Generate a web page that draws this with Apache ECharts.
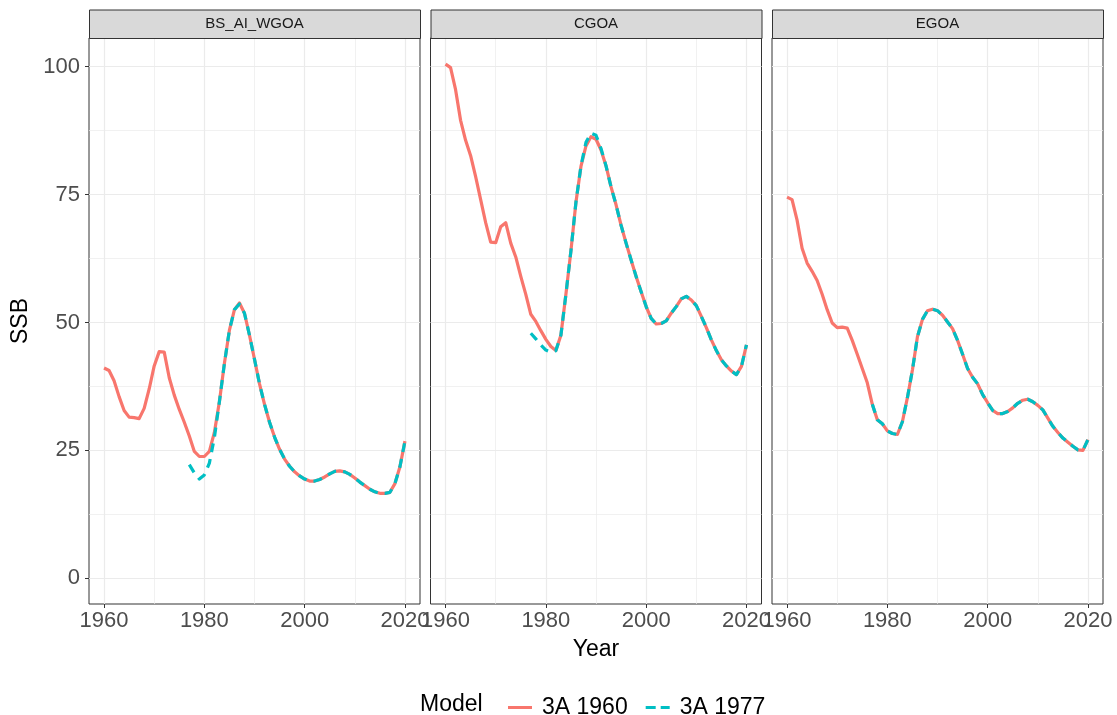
<!DOCTYPE html>
<html>
<head>
<meta charset="utf-8">
<script src="https://cdn.jsdelivr.net/npm/echarts@6/dist/echarts.min.js"></script>
<style>
  html, body { margin: 0; padding: 0; background: #ffffff; }
  #chart { width: 1117px; height: 715px; }
</style>
</head>
<body>
<div id="chart"></div>
<script>
// Facet names and model runs
const regions = ['BS_AI_WGOA', 'CGOA', 'EGOA'];
const modelNames = ['3A 1960', '3A 1977'];
const startYear1960 = 1960;
const startYear1977 = 1977;

// Axis breaks
const xTickLabels = [1960, 1980, 2000, 2020];
const xMinorBreaks = [1970, 1990, 2010];
const yTickLabels = [0, 25, 50, 75, 100];
const yMinorBreaks = [12.5, 37.5, 62.5, 87.5];

// SSB by year, model 3A 1960 (1960-2020)
const bsRun1960 = [
  41.1, 40.6, 38.6, 35.5, 32.8, 31.5, 31.4, 31.2, 33.2, 37.0,
  41.5, 44.3, 44.2, 39.2, 35.8, 33.0, 30.5, 27.8, 24.8, 23.8,
  23.8, 24.8, 28.5, 34.5, 42.0, 48.5, 52.5, 53.8, 51.8, 47.5,
  42.8, 38.0, 34.0, 30.5, 27.6, 25.2, 23.3, 21.9, 20.8, 20.0,
  19.4, 19.0, 19.0, 19.3, 19.8, 20.4, 20.9, 21.0, 20.8, 20.3,
  19.6, 18.8, 18.1, 17.4, 16.9, 16.6, 16.6, 16.8, 18.5, 21.8, 26.8
];
const cgRun1960 = [
  100.5, 99.8, 95.5, 89.5, 85.6, 82.6, 78.5, 74.0, 69.5, 65.7,
  65.6, 68.7, 69.5, 65.5, 62.8, 59.0, 55.5, 51.6, 50.2, 48.4,
  46.7, 45.3, 44.5, 47.5, 55.5, 64.0, 73.5, 80.5, 84.5, 86.3,
  85.8, 83.7, 80.6, 76.5, 73.0, 69.0, 65.5, 62.2, 59.0, 56.0,
  53.1, 50.8, 49.7, 49.8, 50.3, 51.8, 53.1, 54.6, 55.1, 54.4,
  53.3, 51.2, 49.0, 46.6, 44.5, 42.7, 41.5, 40.5, 39.8, 41.4, 45.6
];
const egRun1960 = [
  74.5, 74.0, 70.0, 64.5, 61.6, 60.0, 58.2, 55.5, 52.5, 49.9,
  49.0, 49.1, 48.9, 46.5, 43.8, 41.0, 38.2, 34.0, 31.0, 30.2,
  28.8, 28.3, 28.1, 30.6, 35.3, 40.7, 47.2, 50.6, 52.3, 52.6,
  52.3, 51.4, 50.1, 48.8, 46.5, 43.8, 41.0, 39.3, 38.0, 35.9,
  34.3, 32.8, 32.2, 32.2, 32.6, 33.3, 34.2, 34.8, 35.0, 34.5,
  33.8, 32.9, 31.3, 29.7, 28.5, 27.4, 26.6, 25.8, 25.1, 25.0, 27.1
];

// SSB by year, model 3A 1977 (1977-2020)
const bsRun1977 = [
  22.2, 20.6, 19.4, 20.2, 22.5, 27.5, 34.5, 42.0, 48.5, 52.5,
  53.6, 51.8, 47.5, 42.8, 38.0, 34.0, 30.5, 27.6, 25.2, 23.3,
  21.9, 20.8, 20.0, 19.4, 19.0, 19.0, 19.3, 19.8, 20.4, 20.9,
  21.0, 20.8, 20.3, 19.6, 18.8, 18.1, 17.4, 16.9, 16.6, 16.6,
  16.8, 18.5, 21.8, 26.8
];
const cgRun1977 = [
  47.9, 46.8, 45.6, 44.6, 44.2, 44.5, 47.5, 55.5, 64.0, 73.5,
  80.6, 85.2, 87.0, 86.6, 84.0, 80.6, 76.5, 73.0, 69.0, 65.5,
  62.2, 59.0, 56.0, 53.1, 50.8, 49.7, 49.8, 50.3, 51.8, 53.1,
  54.6, 55.1, 54.4, 53.3, 51.2, 49.0, 46.6, 44.5, 42.7, 41.5,
  40.5, 39.8, 41.4, 45.6
];
const egRun1977 = [
  34.0, 31.0, 30.2, 28.8, 28.3, 28.1, 30.6, 35.3, 40.7, 47.2,
  50.6, 52.3, 52.6, 52.3, 51.4, 50.1, 48.8, 46.5, 43.8, 41.0,
  39.3, 38.0, 35.9, 34.3, 32.8, 32.2, 32.2, 32.6, 33.3, 34.2,
  34.8, 35.0, 34.5, 33.8, 32.9, 31.3, 29.7, 28.5, 27.4, 26.6,
  25.8, 25.1, 25.0, 27.1
];

const runs1960 = [bsRun1960, cgRun1960, egRun1960];
const runs1977 = [bsRun1977, cgRun1977, egRun1977];

// Panel layout
const panelLeft = [89, 430.5, 772];
const panelWidth = 331;
const panelTop = 38;
const panelHeight = 566;
const stripTop = 9.5;

const FONT = "'Liberation Sans', Arial, sans-serif";
const RED = '#F8766D';
const TEAL = '#00BFC4';
const GRID_COLOR = '#EBEBEB';

function toPairs(start, values) {
  return values.map((v, i) => [start + i, v]);
}
const plainNumber = v => String(v);

const grids = [], xAxes = [], yAxes = [], series = [], graphics = [];

regions.forEach((name, i) => {
  grids.push({
    left: panelLeft[i], top: panelTop, width: panelWidth, height: panelHeight,
    show: true, borderColor: '#333333', borderWidth: 1, backgroundColor: 'transparent',
    containLabel: false
  });

  // Major x breaks with labels
  xAxes.push({
    type: 'value', gridIndex: i, min: 1957, max: 2023, position: 'bottom',
    name: i === 1 ? 'Year' : '', nameLocation: 'middle', nameGap: 34,
    nameTextStyle: { fontSize: 23, color: '#000000', fontFamily: FONT },
    axisLine: { show: false, onZero: false },
    axisTick: { show: true, length: 4, customValues: xTickLabels, lineStyle: { color: '#333333', width: 1 } },
    axisLabel: { show: true, customValues: xTickLabels, formatter: plainNumber, fontSize: 22, color: '#4D4D4D', fontFamily: FONT, margin: 6, hideOverlap: false },
    splitLine: { show: true, lineStyle: { color: GRID_COLOR, width: 1.2 } },
    z: 1
  });
  // Minor x breaks (grid lines only)
  xAxes.push({
    type: 'value', gridIndex: i, min: 1957, max: 2023, position: 'bottom',
    axisLine: { show: false, onZero: false },
    axisTick: { show: false, customValues: xMinorBreaks },
    axisLabel: { show: false, customValues: xMinorBreaks },
    splitLine: { show: true, lineStyle: { color: GRID_COLOR, width: 0.7 } },
    z: 0
  });

  yAxes.push({
    type: 'value', gridIndex: i, min: -5.03, max: 105.6, position: 'left',
    name: i === 0 ? 'SSB' : '', nameLocation: 'middle', nameGap: 57, nameRotate: 90,
    nameTextStyle: { fontSize: 23, color: '#000000', fontFamily: FONT },
    axisLine: { show: false, onZero: false },
    axisTick: { show: i === 0, length: 4, customValues: yTickLabels, lineStyle: { color: '#333333', width: 1 } },
    axisLabel: { show: i === 0, customValues: yTickLabels, formatter: plainNumber, fontSize: 22, color: '#4D4D4D', fontFamily: FONT, margin: 9 },
    splitLine: { show: true, lineStyle: { color: GRID_COLOR, width: 1.2 } },
    z: 1
  });
  yAxes.push({
    type: 'value', gridIndex: i, min: -5.03, max: 105.6, position: 'left',
    axisLine: { show: false, onZero: false },
    axisTick: { show: false, customValues: yMinorBreaks },
    axisLabel: { show: false, customValues: yMinorBreaks },
    splitLine: { show: true, lineStyle: { color: GRID_COLOR, width: 0.7 } },
    z: 0
  });

  series.push({
    name: modelNames[0], type: 'line', xAxisIndex: i * 2, yAxisIndex: i * 2,
    data: toPairs(startYear1960, runs1960[i]),
    showSymbol: false, symbol: 'none', smooth: false, silent: true,
    lineStyle: { color: RED, width: 3.2, cap: 'butt', join: 'round' },
    itemStyle: { color: RED }, z: 3
  });
  series.push({
    name: modelNames[1], type: 'line', xAxisIndex: i * 2, yAxisIndex: i * 2,
    data: toPairs(startYear1977, runs1977[i]),
    showSymbol: false, symbol: 'none', smooth: false, silent: true,
    lineStyle: { color: TEAL, width: 3.2, type: [9, 7], cap: 'butt', join: 'round' },
    itemStyle: { color: TEAL }, z: 4
  });

  // Facet strip
  graphics.push({
    type: 'rect', left: panelLeft[i], top: stripTop,
    shape: { width: panelWidth, height: panelTop - stripTop },
    style: { fill: '#D9D9D9', stroke: '#333333', lineWidth: 1 }, z: 10
  });
  graphics.push({
    type: 'text', x: panelLeft[i] + panelWidth / 2, y: (stripTop + panelTop) / 2,
    style: { text: name, fill: '#1A1A1A', font: '15px ' + FONT, textAlign: 'center', textVerticalAlign: 'middle' },
    z: 11
  });
});

// Legend title
graphics.push({
  type: 'text', x: 420, y: 705,
  style: { text: 'Model', fill: '#000000', font: '23px ' + FONT, textAlign: 'left', textVerticalAlign: 'middle' },
  z: 11
});

const chart = echarts.init(document.getElementById('chart'), null, { renderer: 'canvas' });
chart.setOption({
  backgroundColor: '#ffffff',
  animation: false,
  textStyle: { fontFamily: FONT },
  grid: grids,
  xAxis: xAxes,
  yAxis: yAxes,
  series: series,
  legend: {
    data: [
      { name: modelNames[0], icon: 'path://M0,0h24v3h-24z', itemStyle: { color: RED } },
      { name: modelNames[1], icon: 'path://M0,0h10v3h-10z M15,0h9v3h-9z', itemStyle: { color: TEAL } }
    ],
    left: 503, top: 691, orient: 'horizontal',
    itemWidth: 24, itemHeight: 3, itemGap: 18,
    textStyle: { fontSize: 23, color: '#000000', fontFamily: FONT, padding: [0, 0, 0, 5] },
    selectedMode: false
  },
  graphic: graphics
});
</script>
</body>
</html>
